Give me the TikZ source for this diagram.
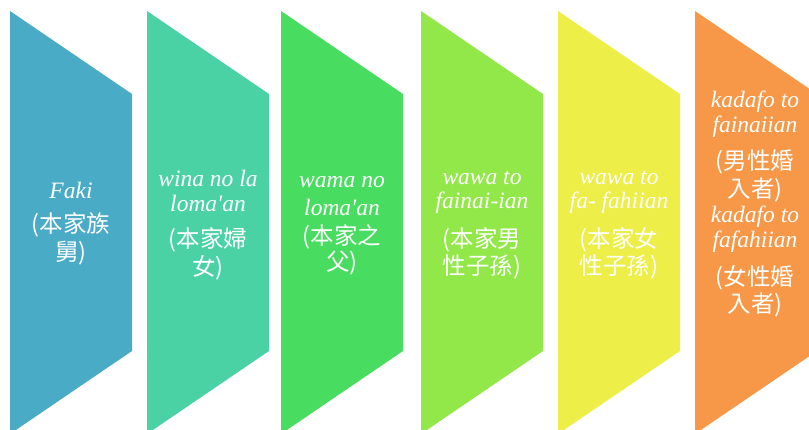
\documentclass[tikz,border=0pt]{standalone}
\usepackage{fontspec}
\setmainfont{Liberation Serif}
\newfontfamily\cjk{Noto Sans CJK TC}
\definecolor{cA}{HTML}{4AABC7}
\definecolor{cB}{HTML}{4BD2A4}
\definecolor{cC}{HTML}{48DD60}
\definecolor{cD}{HTML}{92E848}
\definecolor{cE}{HTML}{EDEE48}
\definecolor{cF}{HTML}{F69848}
\tikzset{
  rom/.style={text=white, font=\fontsize{23.5}{25}\selectfont\itshape, inner sep=0pt},
  han/.style={text=white, font=\fontsize{23.5}{25}\selectfont\cjk, inner sep=0pt},
}
\newcommand{\chev}[2]{\fill[#2] (#1,11) -- (#1+122,94) -- (#1+122,351) -- (#1,434) -- cycle;}
\newcommand{\ap}{\textquotesingle}
\begin{document}
\begin{tikzpicture}[x=1pt,y=-1pt]
\useasboundingbox (0,0) rectangle (809,430);
\clip (0,0) rectangle (809,430);
\chev{10}{cA}
\chev{147}{cB}
\chev{281}{cC}
\chev{421}{cD}
\chev{558}{cE}
\chev{695}{cF}
% shape 1
\node[rom] (a1) at (71,190) {Faki};
\node[han] (a2) at (71,225) {(本家族};
\node[han] (a3) at (71,253) {舅)};
% shape 2
\node[rom] (b1) at (208,178) {wina no la};
\node[rom] (b2) at (208,203) {loma\ap an};
\node[han] (b3) at (208,240) {(本家婦};
\node[han] (b4) at (208,268) {女)};
% shape 3
\node[rom] (c1) at (342,182) {wama no};
\node[rom] (c2) at (342,207) {loma\ap an};
\node[han] (c3) at (342,237) {(本家之};
\node[han] (c4) at (342,263) {父)};
% shape 4
\node[rom] (d1) at (482,178) {wawa to};
\node[rom] (d2) at (482,203) {fainai-ian};
\node[han] (d3) at (482,240) {(本家男};
\node[han] (d4) at (482,267) {性子孫)};
% shape 5
\node[rom] (e1) at (619,178) {wawa to};
\node[rom] (e2) at (619,203) {fa- fahiian};
\node[han] (e3) at (619,240) {(本家女};
\node[han] (e4) at (619,267) {性子孫)};
% shape 6
\node[rom] (f1) at (755,102) {kadafo to};
\node[rom] (f2) at (755,127) {fainaiian};
\node[han] (f3) at (755,162) {(男性婚};
\node[han] (f4) at (755,190) {入者)};
\node[rom] (f5) at (755,217) {kadafo to};
\node[rom] (f6) at (755,242) {fafahiian};
\node[han] (f7) at (755,278) {(女性婚};
\node[han] (f8) at (755,305) {入者)};
\end{tikzpicture}
\end{document}
